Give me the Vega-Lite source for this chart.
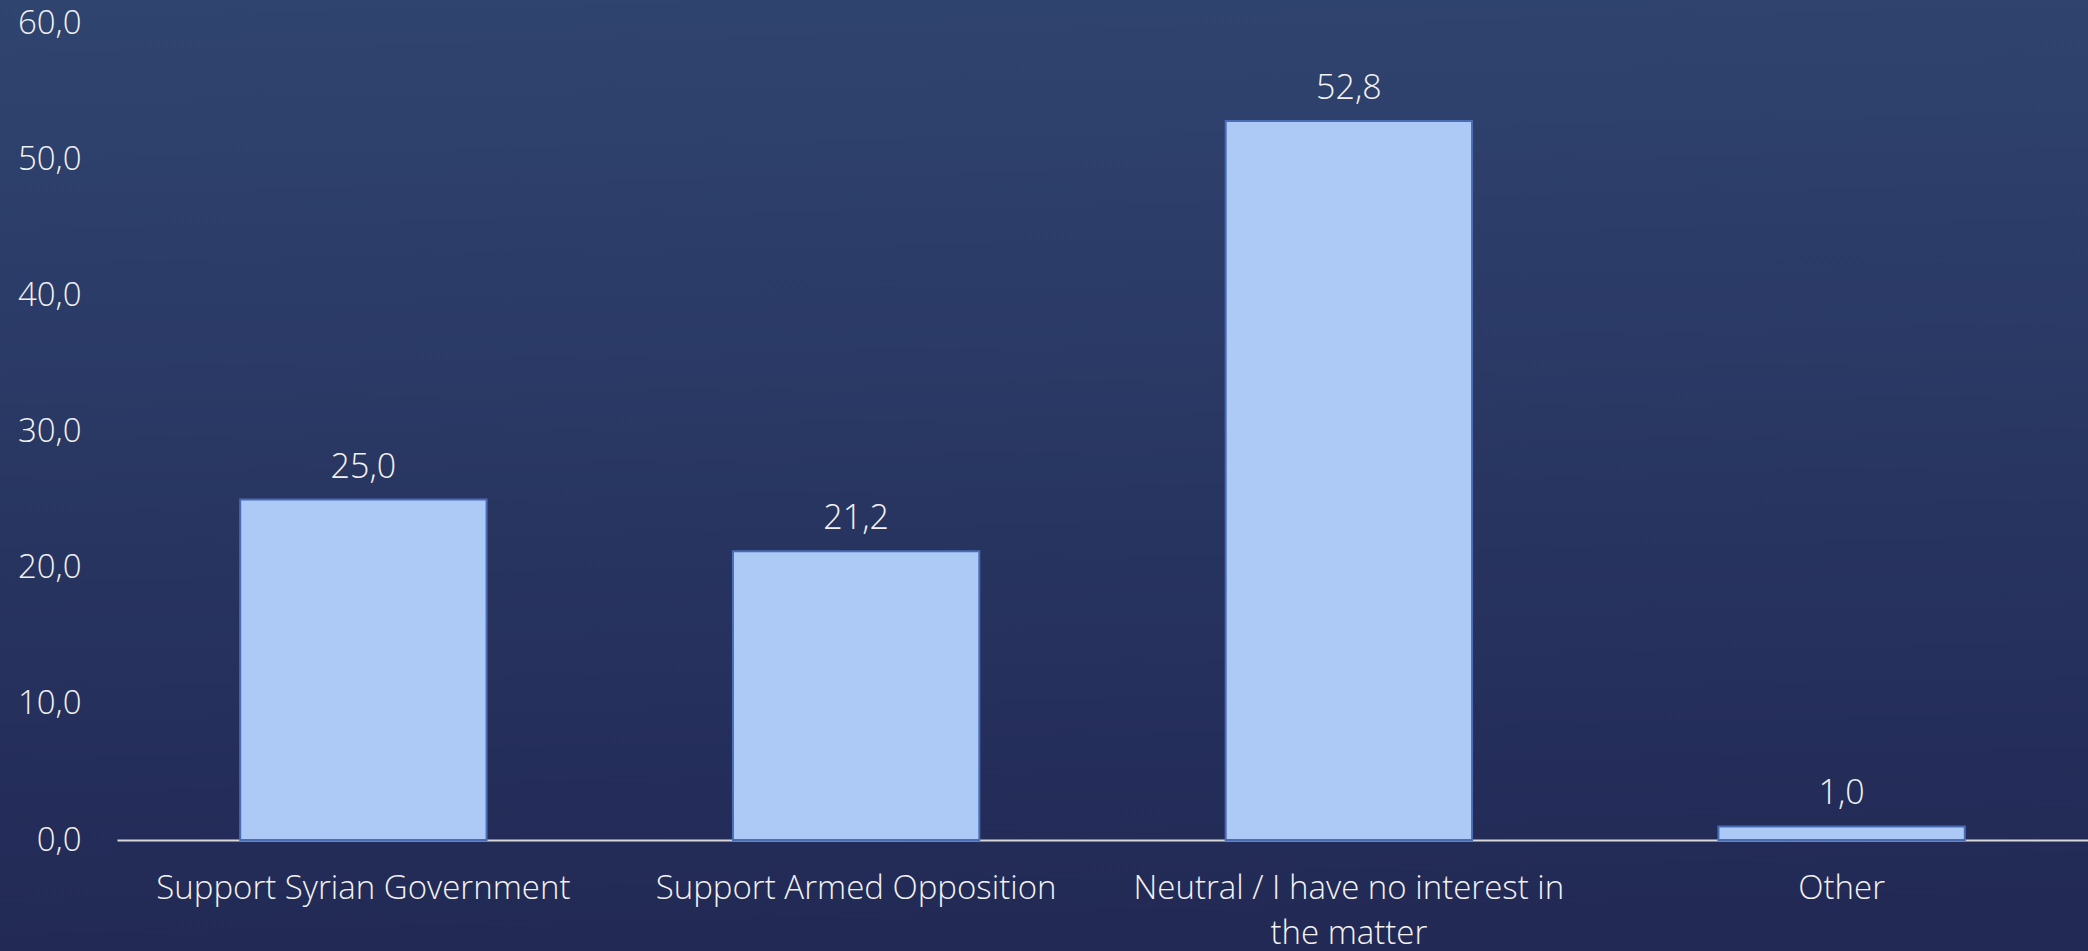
{
  "$schema": "https://vega.github.io/schema/vega-lite/v6.json",
  "width": 2088,
  "height": 951,
  "autosize": {"type": "none"},
  "padding": 0,
  "background": "#232a55",
  "config": {
    "locale": {"number": {"decimal": ",", "thousands": ".", "grouping": [3], "currency": ["", " €"]}},
    "view": {"stroke": null, "fill": {"gradient": "linear", "x1": 0, "y1": 0, "x2": 0.05, "y2": 1, "stops": [{"offset": 0, "color": "#304470"}, {"offset": 1, "color": "#222955"}]}},
    "font": "Open Sans"
  },
  "data": {
    "values": [
      {"category": "Support Syrian Government", "value": 25.0},
      {"category": "Support Armed Opposition", "value": 21.2},
      {"category": "Neutral / I have no interest in the matter", "value": 52.8},
      {"category": "Other", "value": 1.0}
    ]
  },
  "encoding": {
    "x": {
      "field": "category",
      "type": "nominal",
      "sort": null,
      "scale": {"paddingInner": 0.5, "paddingOuter": 0.25, "range": [117, 2088]},
      "axis": {
        "title": null,
        "offset": -111,
        "labelAngle": 0,
        "ticks": false,
        "tickSize": 0,
        "labelPadding": 32,
        "labelColor": "#f2f2f2",
        "labelFontSize": 33,
        "labelFontWeight": 300,
        "labelFont": "Open Sans",
        "labelLineHeight": 45,
        "labelBaseline": "top",
        "labelLimit": 600,
        "domainColor": "#d9d9d9",
        "domainWidth": 2,
        "grid": false,
        "labelExpr": "datum.value == 'Neutral / I have no interest in the matter' ? ['Neutral / I have no interest in', 'the matter'] : datum.value"
      }
    },
    "y": {
      "field": "value",
      "type": "quantitative",
      "scale": {"domain": [0, 60], "nice": false, "range": [840, 23]},
      "axis": {
        "title": null,
        "offset": -117,
        "values": [0, 10, 20, 30, 40, 50, 60],
        "format": ".1f",
        "grid": false,
        "domain": false,
        "ticks": false,
        "tickSize": 0,
        "labelPadding": 36,
        "labelColor": "#f2f2f2",
        "labelFontSize": 33,
        "labelFontWeight": 300,
        "labelFont": "Open Sans"
      }
    }
  },
  "layer": [
    {
      "mark": {"type": "bar", "color": "#adc9f5", "stroke": "#4a6cb5", "strokeWidth": 2}
    },
    {
      "mark": {"type": "text", "color": "#f2f2f2", "fontSize": 34, "fontWeight": 300, "font": "Open Sans", "baseline": "alphabetic", "dy": -22},
      "encoding": {"text": {"field": "value", "type": "quantitative", "format": ".1f"}}
    }
  ]
}
